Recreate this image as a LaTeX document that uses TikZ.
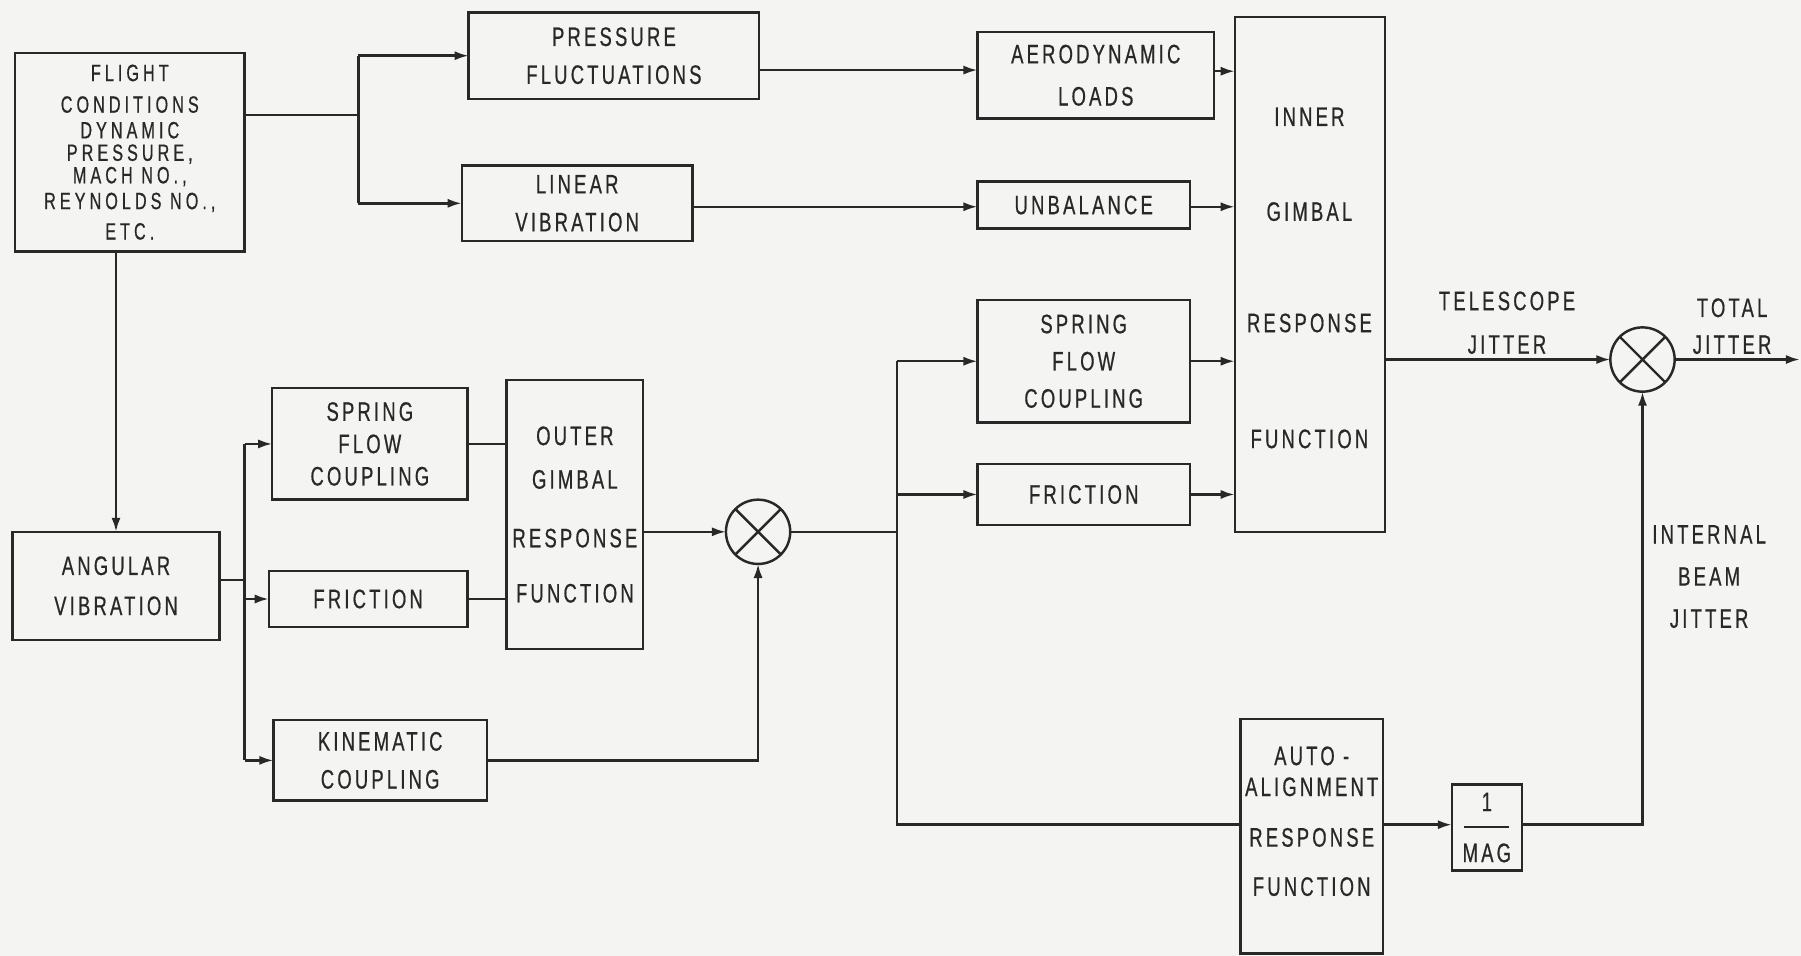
\documentclass[tikz,border=0pt]{standalone}
\usepackage{fontspec}
\setmainfont{Liberation Sans}[FakeStretch=0.69,LetterSpace=12,FakeBold=0.6]
\usetikzlibrary{arrows.meta}
\definecolor{paper}{RGB}{244,244,242}
\definecolor{ink}{RGB}{40,40,40}
\newcommand\bx[6]{\node[box, minimum width={(#4-#2)*0.011486cm}, minimum height={(#5-#3)*0.011486cm}] (#1) at ({(#2+#4)/2},{(#3+#5)/2}) {#6};}
\begin{document}
\begin{tikzpicture}[x=0.011486cm,y=-0.011486cm,
  every node/.style={font={\fontsize{7.6}{6}\selectfont\lineskiplimit=-20pt}, text=ink},
  box/.style={draw=ink, line width=0.7pt, inner sep=0pt, outer sep=0pt, align=center},
  txt/.style={align=center, inner sep=0pt},
  small/.style={font={\fontsize{6.7}{6}\selectfont\addfontfeatures{LetterSpace=17}\lineskiplimit=-20pt}},
  sum/.style={draw=ink, circle, line width=0.7pt, minimum size=0.643cm, inner sep=0pt, outer sep=0pt},
  conn/.style={draw=ink, line width=0.7pt},
  arr/.style={conn, -{Latex[length=4pt,width=2.6pt]}}]
\lineskiplimit=-20pt\relax
\fill[paper] (0,0) rectangle (1568,832);
\useasboundingbox (0,0) rectangle (1568,832);

% boxes
\node[box, small, minimum width={200*0.011486cm}, minimum height={173*0.011486cm}] (fc) at (113,132.5) {FLIGHT\\[3pt]CONDITIONS\\[1.3pt]DYNAMIC\\[0.4pt]PRESSURE,\\[0.4pt]MACH NO.,\\[1.35pt]REYNOLDS NO.,\\[2.65pt]ETC.};
\bx{pf}{408}{11}{661}{86}{PRESSURE\\[4.8pt]FLUCTUATIONS}
\bx{lv}{402}{144}{603}{210}{LINEAR\\[4.8pt]VIBRATION}
\bx{ad}{851}{28}{1057}{103}{AERODYNAMIC\\[6pt]LOADS}
\bx{ub}{851}{158}{1036}{199}{UNBALANCE}
\bx{ig}{1075}{15}{1206}{463}{}
\node[txt] (igt) at (1140,242) {INNER\\[21pt]GIMBAL\\[25.7pt]RESPONSE\\[27pt]FUNCTION};
\bx{sfr}{851}{261}{1036}{368}{SPRING\\[4.6pt]FLOW\\[4.6pt]COUPLING}
\bx{frr}{851}{404}{1036}{457}{FRICTION}
\bx{ang}{11}{463}{191}{557}{ANGULAR\\[5.4pt]VIBRATION}
\bx{sfl}{237}{338}{407}{435}{SPRING\\[3.2pt]FLOW\\[3.2pt]COUPLING}
\bx{frl}{234}{497}{407}{546}{FRICTION}
\bx{kin}{238}{627}{424}{697}{KINEMATIC\\[4.8pt]COUPLING}
\bx{og}{441}{331}{560}{565}{OUTER\\[6.4pt]GIMBAL\\[10.7pt]RESPONSE\\[9.7pt]FUNCTION}
\bx{aa}{1080}{626}{1204}{830}{}
\node[txt] (aat) at (1142,715) {AUTO -\\[2.8pt]ALIGNMENT\\[8.4pt]RESPONSE\\[8pt]FUNCTION};
\bx{mag}{1264}{683}{1325}{758}{1\\[-1.1pt]\rule{0.45cm}{0.8pt}\\[3.6pt]MAG}

% summing junctions
\node[sum] (s1) at (660,463) {};
\node[sum] (s2) at (1430,313) {};
\draw[conn] (s1.north west) -- (s1.south east) (s1.north east) -- (s1.south west);
\draw[conn] (s2.north west) -- (s2.south east) (s2.north east) -- (s2.south west);

% labels
\node[txt] (tel) at (1312,281) {TELESCOPE\\[6.4pt]JITTER};
\node[txt] (tot) at (1508,284) {TOTAL\\[4.5pt]JITTER};
\node[txt] (ibj) at (1488,502) {INTERNAL\\[6pt]BEAM\\[6pt]JITTER};

% coordinates
\coordinate (j1) at (312,100);
\coordinate (j2) at (213,505);
\coordinate (j3) at (781,463);
\coordinate (j4) at (781,718);
\coordinate (out) at (1567,313);

% connectors top
\draw[conn] (fc.east |- j1) -- (j1);
\draw[conn] (j1 |- pf.west) -- (j1 |- lv.west);
\draw[arr] (j1 |- pf.west) -- (pf.west);
\draw[arr] (j1 |- lv.west) -- (lv.west);
\draw[arr] (pf.east |- 0,61) -- (ad.west |- 0,61);
\draw[arr] (ad.east |- 0,62) -- (ig.west |- 0,62);
\draw[arr] (lv.east |- 0,180) -- (ub.west |- 0,180);
\draw[arr] (ub.east |- 0,180) -- (ig.west |- 0,180);
\draw[arr] (sfr.east) -- (ig.west |- sfr.east);
\draw[arr] (frr.east) -- (ig.west |- frr.east);
\draw[arr] (ig.east |- s2.west) -- (s2.west);
\draw[arr] (s2.east) -- (out);

% left part
\draw[arr] (fc.south -| ang.north) -- (ang.north);
\draw[conn] (ang.east |- j2) -- (j2);
\draw[conn] (sfl.west -| j2) -- (kin.west -| j2);
\draw[arr] (kin.west -| j2) -- (kin.west);
\draw[arr] (sfl.west -| j2) -- (sfl.west);
\draw[arr] (frl.west -| j2) -- (frl.west);
\draw[conn] (sfl.east) -- (og.west |- sfl.east);
\draw[conn] (frl.east) -- (og.west |- frl.east);
\draw[arr] (og.east |- s1.west) -- (s1.west);
\draw[arr] (kin.east) -| (s1.south);

% middle distribution
\draw[conn] (s1.east) -- (j3);
\draw[arr] (sfr.west -| j3) -- (sfr.west);
\draw[arr] (frr.west -| j3) -- (frr.west);
\draw[conn] (sfr.west -| j3) -- (j4) -- (aa.west |- j4);
\draw[arr] (aa.east |- j4) -- (mag.west |- j4);
\draw[arr] (mag.east |- j4) -| (s2.south);
\end{tikzpicture}
\end{document}
